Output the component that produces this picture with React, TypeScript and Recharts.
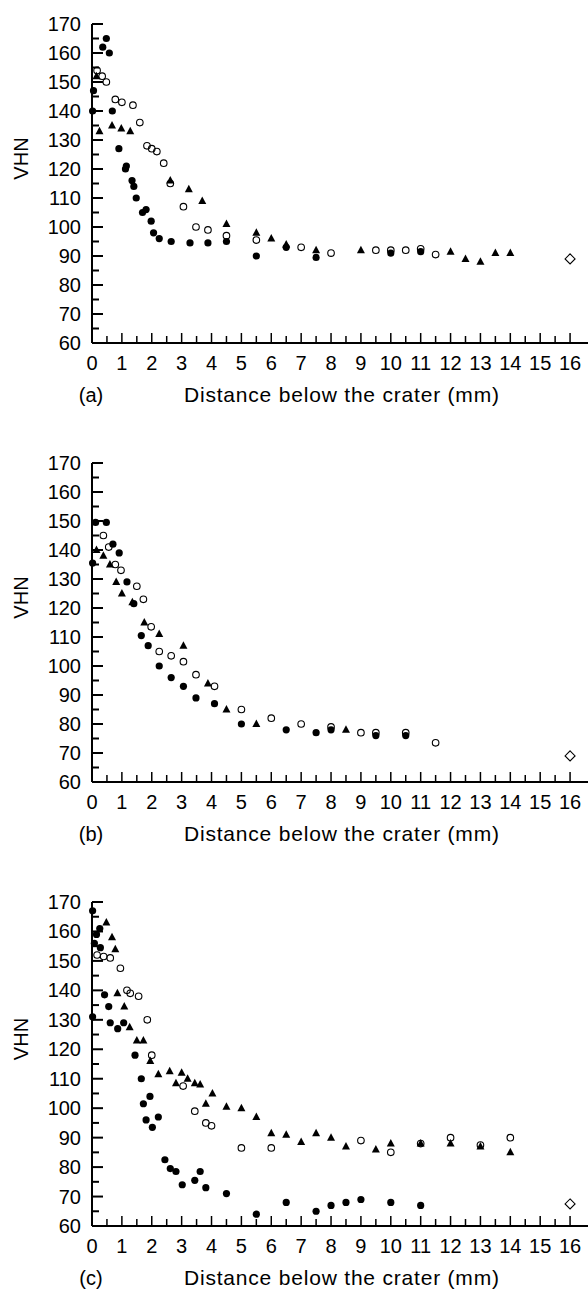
import { ScatterChart, Scatter, XAxis, YAxis } from 'recharts'

// Hardness (VHN) against distance below the crater (mm)
const aFilled = [
  [0.02, 140], [0.05, 147], [0.36, 162], [0.48, 165], [0.58, 160], [0.68, 140], [0.9, 127],
  [1.12, 120], [1.15, 121], [1.34, 116], [1.4, 114], [1.48, 110], [1.69, 105], [1.81, 106],
  [1.98, 102], [2.06, 98], [2.25, 96], [2.65, 95], [3.28, 94.5], [3.88, 94.5], [4.5, 95],
  [5.5, 90], [6.5, 93], [7.5, 89.5], [10, 91], [11, 91.5],
]
const aOpen = [
  [0.17, 154], [0.34, 152], [0.48, 150], [0.78, 144], [1.0, 143], [1.37, 142], [1.6, 136],
  [1.84, 128], [2.0, 127], [2.17, 126], [2.4, 122], [2.62, 115], [3.06, 107], [3.48, 100],
  [3.88, 99], [4.5, 97], [5.5, 95.5], [7, 93], [8, 91], [9.5, 92], [10, 92], [10.5, 92],
  [11, 92.5], [11.5, 90.5],
]
const aTri = [
  [0.15, 152], [0.25, 133], [0.67, 135], [0.98, 134], [1.28, 133], [2.62, 116], [3.24, 113],
  [3.69, 109], [4.5, 101], [5.5, 98], [6, 96], [6.5, 94], [7.5, 92], [9, 92], [12, 91.5],
  [12.5, 89], [13, 88], [13.5, 91], [14, 91],
]
const aDiamond = [[16, 89]]

const bFilled = [
  [0.02, 135.5], [0.12, 149.5], [0.48, 149.5], [0.7, 142], [0.91, 139], [1.17, 129],
  [1.4, 121.5], [1.65, 110.5], [1.88, 107], [2.25, 100], [2.65, 96], [3.06, 93], [3.48, 89],
  [4.1, 87], [5.0, 80], [6.5, 78], [7.5, 77], [8, 78], [9.5, 76], [10.5, 76],
]
const bOpen = [
  [0.38, 145], [0.56, 141], [0.78, 135], [0.97, 133], [1.5, 127.5], [1.72, 123], [1.98, 113.5],
  [2.25, 105], [2.65, 103.5], [3.06, 101.5], [3.48, 97], [4.1, 93], [5.0, 85], [6, 82], [7, 80],
  [8, 79], [9, 77], [9.5, 77], [10.5, 77], [11.5, 73.5],
]
const bTri = [
  [0.15, 140], [0.38, 138], [0.6, 135], [0.81, 129], [1.0, 125], [1.35, 122], [1.75, 115],
  [2.25, 111], [3.06, 107], [3.88, 94], [4.5, 85], [5.5, 80], [8.5, 78],
]
const bDiamond = [[16, 69]]

const cFilled = [
  [0.02, 167], [0.26, 161], [0.15, 159], [0.08, 156], [0.28, 154.5], [0.42, 138.5],
  [0.56, 134.5], [0.02, 131], [0.61, 129], [0.86, 127], [1.06, 129], [1.44, 118], [1.65, 110],
  [1.72, 101.5], [1.94, 104], [1.81, 96], [2.02, 93.5], [2.22, 97], [2.44, 82.5], [2.62, 79.5],
  [2.81, 78.5], [3.02, 74], [3.44, 75.5], [3.62, 78.5], [3.81, 73], [4.5, 71], [5.5, 64],
  [6.5, 68], [7.5, 65], [8, 67], [8.5, 68], [9, 69], [10, 68], [11, 67],
]
const cOpen = [
  [0.17, 152], [0.39, 151.5], [0.61, 151], [0.95, 147.5], [1.17, 140], [1.28, 139], [1.56, 138],
  [1.85, 130], [2.0, 118], [3.05, 107.5], [3.44, 99], [3.81, 95], [4.0, 94], [5, 86.5],
  [6, 86.5], [9, 89], [10, 85], [11, 88], [12, 90], [13, 87.5], [14, 90],
]
const cTri = [
  [0.48, 163], [0.67, 158], [0.78, 154], [0.85, 139], [1.08, 134.5], [1.26, 127.5], [1.5, 123],
  [1.72, 123], [1.95, 116], [2.22, 111.5], [2.6, 112.5], [3.0, 112], [3.2, 110], [2.81, 108.5],
  [3.44, 108.5], [3.62, 108], [4.03, 105], [3.81, 101.5], [4.5, 100.5], [5, 100], [5.5, 97],
  [6, 91.5], [6.5, 91], [7, 88.5], [7.5, 91.5], [8, 90], [8.5, 87], [9.5, 86], [10, 88],
  [11, 88], [12, 88], [13, 87], [14, 85],
]
const cDiamond = [[16, 67.5]]

const xTicks = [
  0, 0.5, 1, 1.5, 2, 2.5, 3, 3.5, 4, 4.5, 5, 5.5, 6, 6.5, 7, 7.5, 8, 8.5,
  9, 9.5, 10, 10.5, 11, 11.5, 12, 12.5, 13, 13.5, 14, 14.5, 15, 15.5, 16,
]
const yTicks = [
  60, 65, 70, 75, 80, 85, 90, 95, 100, 105, 110, 115, 120, 125, 130, 135, 140, 145, 150, 155,
  160, 165, 170,
]

const FONT = '"Liberation Sans", Arial, sans-serif'

const pts = (arr: number[][]) => arr.map(([x, y]) => ({ x, y }))

const FilledDot = (p: any) => <circle cx={p.cx} cy={p.cy} r={3.6} fill="#000" />
const OpenDot = (p: any) => (
  <circle cx={p.cx} cy={p.cy} r={3.3} fill="none" stroke="#000" strokeWidth={1.1} />
)
const Tri = (p: any) => (
  <path d={`M${p.cx},${p.cy - 4.5}L${p.cx + 4},${p.cy + 3}L${p.cx - 4},${p.cy + 3}Z`} fill="#000" />
)
const Diamond = (p: any) => (
  <path
    d={`M${p.cx},${p.cy - 5}L${p.cx + 5},${p.cy}L${p.cx},${p.cy + 5}L${p.cx - 5},${p.cy}Z`}
    fill="none"
    stroke="#000"
    strokeWidth={1.1}
  />
)

const XTick = (props: any) => {
  const { x, y, payload } = props
  const major = Number.isInteger(payload.value)
  return (
    <g>
      <line x1={x} x2={x} y1={y} y2={y - (major ? 10 : 7)} stroke="#000" strokeWidth={1.5} />
      {major && (
        <text x={x} y={y + 27} textAnchor="middle" fontSize={20} fontFamily={FONT} fill="#000">
          {payload.value}
        </text>
      )}
    </g>
  )
}

const YTick = (props: any) => {
  const { x, y, payload } = props
  const major = payload.value % 10 === 0
  return (
    <g>
      <line x1={x} x2={x + (major ? 11 : 7)} y1={y} y2={y} stroke="#000" strokeWidth={2} />
      {major && (
        <text x={x - 11} y={y + 7} textAnchor="end" fontSize={20} fontFamily={FONT} fill="#000">
          {payload.value}
        </text>
      )}
    </g>
  )
}

function Panel({ tag, filled, open, tri, diamond, height, plotHeight }: any) {
  const top = 24
  const axisY = top + plotHeight
  return (
    <ScatterChart width={588} height={height} margin={{ top, right: 0, bottom: 0, left: 0 }}>
      <XAxis
        type="number"
        dataKey="x"
        domain={[0, 16.6]}
        ticks={xTicks}
        interval={0}
        tickSize={0}
        tickMargin={0}
        tickLine={false}
        tick={<XTick />}
        height={height - axisY}
        axisLine={{ stroke: '#000', strokeWidth: 2 }}
        label={
          <g>
            <text x={91} y={axisY + 59} textAnchor="middle" fontSize={20} fontFamily={FONT} fill="#000">
              {tag}
            </text>
            <text x={184} y={axisY + 59} fontSize={21} letterSpacing={0.8} fontFamily={FONT} fill="#000">
              Distance below the crater (mm)
            </text>
          </g>
        }
      />
      <YAxis
        type="number"
        dataKey="y"
        domain={[60, 170]}
        ticks={yTicks}
        interval={0}
        width={92}
        tickSize={0}
        tickMargin={0}
        tickLine={false}
        tick={<YTick />}
        axisLine={{ stroke: '#000', strokeWidth: 2 }}
        label={
          <text
            x={21}
            y={top + plotHeight / 2}
            transform={`rotate(-90 21 ${top + plotHeight / 2})`}
            dy="0.35em"
            textAnchor="middle"
            fontSize={20}
            fontFamily={FONT}
            fill="#000"
          >
            VHN
          </text>
        }
      />
      <Scatter data={pts(open)} shape={OpenDot} isAnimationActive={false} />
      <Scatter data={pts(tri)} shape={Tri} isAnimationActive={false} />
      <Scatter data={pts(filled)} shape={FilledDot} isAnimationActive={false} />
      <Scatter data={pts(diamond)} shape={Diamond} isAnimationActive={false} />
    </ScatterChart>
  )
}

export default function App() {
  return (
    <div style={{ position: 'absolute', left: 0, top: 0, width: 588, height: 1291, background: '#fff' }}>
      <Panel tag="(a)" filled={aFilled} open={aOpen} tri={aTri} diamond={aDiamond} height={439} plotHeight={319} />
      <Panel tag="(b)" filled={bFilled} open={bOpen} tri={bTri} diamond={bDiamond} height={439} plotHeight={319} />
      <Panel tag="(c)" filled={cFilled} open={cOpen} tri={cTri} diamond={cDiamond} height={413} plotHeight={324} />
    </div>
  )
}
